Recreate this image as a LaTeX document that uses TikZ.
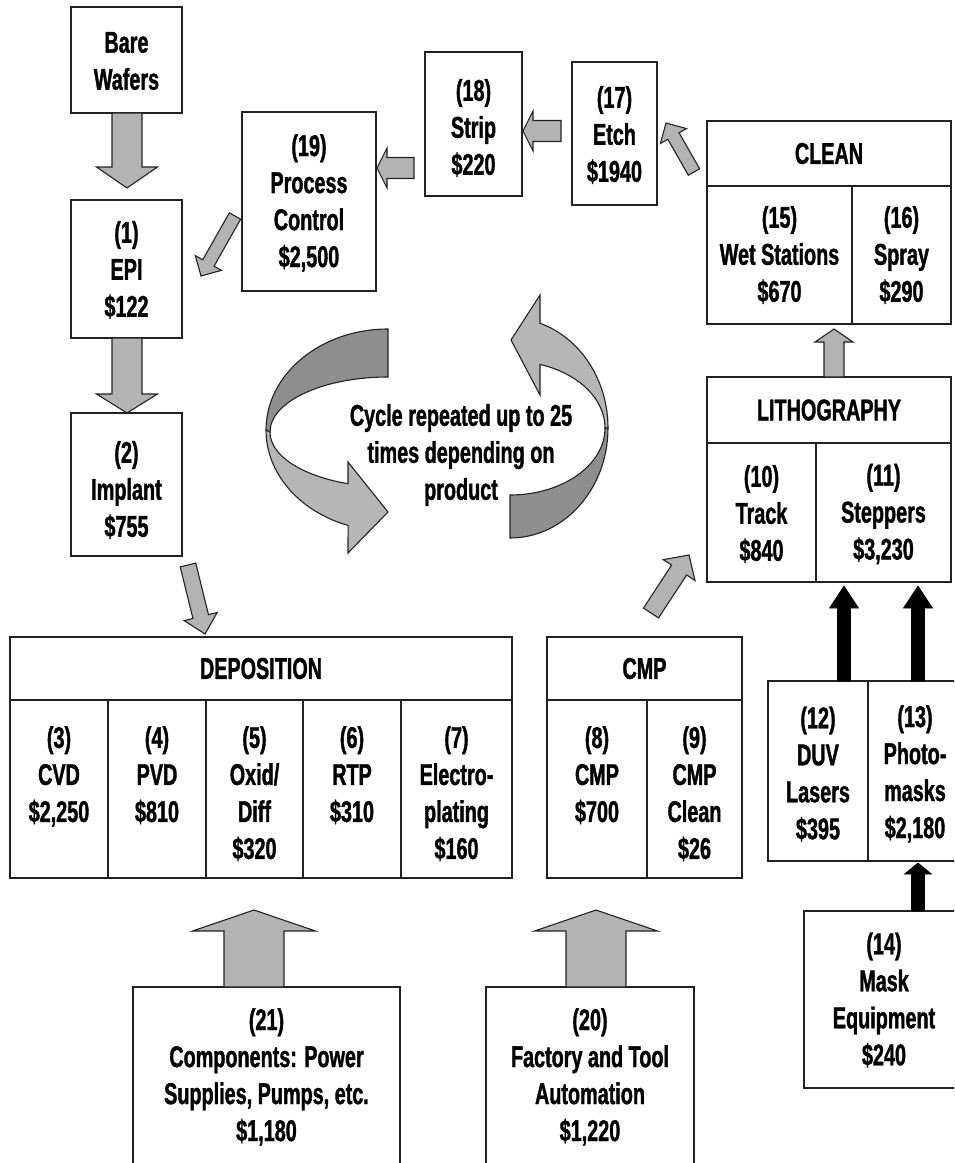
\documentclass[tikz,border=0pt]{standalone}
\usepackage{fontspec}
\setmainfont{Liberation Sans}[FakeStretch=0.66, BoldFeatures={FakeStretch=0.66, FakeBold=1.2}]
\usetikzlibrary{calc}

\definecolor{arrowgray}{HTML}{B3B3B3}
\definecolor{ringdark}{HTML}{8E8E8E}
\definecolor{ringlight}{HTML}{B6B6B6}
\definecolor{linegray}{HTML}{222222}

\tikzset{
  cellbox/.style={draw=linegray, line width=1.8pt, inner sep=0pt},
  divider/.style={draw=linegray, line width=1.5pt},
  txt/.style={font=\fontsize{30}{37}\selectfont\bfseries, align=center, inner sep=0pt},
  grayarrow/.style={fill=arrowgray, draw=linegray, line width=1.1pt, line join=miter},
  blackarrow/.style={fill=black, draw=black, line width=0.6pt, line join=miter},
  ringdarkpart/.style={fill=ringdark, draw=linegray, line width=1.1pt, line join=miter},
  ringlightpart/.style={fill=ringlight, draw=linegray, line width=1.1pt, line join=miter},
}

% rectangle node from two corners: name, x1, y1, x2, y2
\newcommand{\rectnode}[5]{%
  \node[cellbox, minimum width={#4-#2}, minimum height={#5-#3}] (#1)
    at ({(#2+#4)/2},{(#3+#5)/2}) {};}

% block arrow: [style] from, to, shaft half width, head half width, head length
\newcommand{\blockarrow}[6][grayarrow]{%
  \coordinate (ba-h) at ($(#3)!#6pt!(#2)$);
  \draw[#1] ($(#2)!#4pt!90:(#3)$) -- ($(ba-h)!#4pt!-90:(#2)$)
    -- ($(ba-h)!#5pt!-90:(#2)$) -- (#3) -- ($(ba-h)!#5pt!90:(#2)$)
    -- ($(ba-h)!#4pt!90:(#2)$) -- ($(#2)!#4pt!-90:(#3)$) -- cycle;}

\begin{document}
\begin{tikzpicture}[x=1pt,y=-1pt]
\useasboundingbox (0,0) rectangle (954,1163);
\clip (0,0) rectangle (954,1163);

% ---------- boxes ----------
\rectnode{bare}{71}{7}{182}{113}
\rectnode{epi}{71}{200}{182}{338}
\rectnode{implant}{71}{413}{182}{556}
\rectnode{pc}{242}{112}{376}{291}
\rectnode{strip}{425}{52}{522}{196}
\rectnode{etch}{572}{62}{657}{205}
\rectnode{clean}{707}{121}{951}{324}
\rectnode{litho}{707}{377}{951}{582}
\rectnode{dep}{10}{637}{512}{878}
\rectnode{cmp}{547}{637}{742}{878}
\rectnode{duvmask}{768}{681}{962}{861}
\rectnode{maskeq}{804}{911}{962}{1088}
\rectnode{comp}{133}{987}{400}{1175}
\rectnode{fact}{486}{987}{694}{1175}

% group headers and cell dividers
\draw[divider] (707,186) -- (951,186);
\draw[divider] (852,186) -- (852,324);
\draw[divider] (707,443) -- (951,443);
\draw[divider] (816,443) -- (816,582);
\draw[divider] (10,700) -- (512,700);
\foreach \xx in {108,206,303,401} \draw[divider] (\xx,700) -- (\xx,878);
\draw[divider] (547,700) -- (742,700);
\draw[divider] (647,700) -- (647,878);
\draw[divider] (868,681) -- (868,861);

% ---------- texts ----------
\node[txt] (t-bare) at (126.5,61) {Bare\\Wafers};
\node[txt] (t-epi) at (126.5,270) {(1)\\EPI\\\$122};
\node[txt] (t-implant) at (126.5,490) {(2)\\Implant\\\$755};
\node[txt] (t-pc) at (309,203) {(19)\\Process\\Control\\\$2,500};
\node[txt] (t-strip) at (473.5,128) {(18)\\Strip\\\$220};
\node[txt] (t-etch) at (614.5,135) {(17)\\Etch\\\$1940};

\node[txt] (h-clean) at (829,153.5) {CLEAN};
\node[txt] (t-wet) at (779.5,255) {(15)\\Wet Stations\\\$670};
\node[txt] (t-spray) at (901.5,255) {(16)\\Spray\\\$290};

\node[txt] (h-litho) at (829,410) {LITHOGRAPHY};
\node[txt] (t-track) at (761.5,514) {(10)\\Track\\\$840};
\node[txt] (t-steppers) at (883.5,514) {(11)\\Steppers\\\$3,230};

\node[txt] (h-dep) at (261,668.5) {DEPOSITION};
\node[txt, anchor=north] (t-cvd) at (59,726) {(3)\\CVD\\\$2,250};
\node[txt, anchor=north] (t-pvd) at (157,726) {(4)\\PVD\\\$810};
\node[txt, anchor=north] (t-oxid) at (254.5,726) {(5)\\Oxid/\\Diff\\\$320};
\node[txt, anchor=north] (t-rtp) at (352,726) {(6)\\RTP\\\$310};
\node[txt, anchor=north] (t-plating) at (456.5,726) {(7)\\Electro-\\plating\\\$160};

\node[txt] (h-cmp) at (644.5,668.5) {CMP};
\node[txt, anchor=north] (t-cmp) at (597,726) {(8)\\CMP\\\$700};
\node[txt, anchor=north] (t-cmpclean) at (694.5,726) {(9)\\CMP\\Clean\\\$26};

\node[txt] (t-duv) at (818,774) {(12)\\DUV\\Lasers\\\$395};
\node[txt] (t-photo) at (915,774) {(13)\\Photo-\\masks\\\$2,180};
\node[txt] (t-maskeq) at (884,1000) {(14)\\Mask\\Equipment\\\$240};
\node[txt] (t-comp) at (266.5,1077) {(21)\\Components: Power\\Supplies, Pumps, etc.\\\$1,180};
\node[txt] (t-fact) at (590,1077) {(20)\\Factory and Tool\\Automation\\\$1,220};

\node[txt] (t-cycle) at (461,455) {Cycle repeated up to 25\\times depending on\\product};

% ---------- cycle ring arrows ----------
\draw[ringdarkpart] (388,329) arc[start angle=270, end angle=180, x radius=122, y radius=101]
  -- (270,432) arc[start angle=180, end angle=270, x radius=118, y radius=55] -- cycle;
\draw[ringlightpart] (266,430) arc[start angle=180, end angle=109.1, x radius=122, y radius=101]
  -- (348,553) -- (388,512) -- (348,462) -- (348,483.7)
  arc[start angle=109.8, end angle=180, x radius=118, y radius=55] -- cycle;

\draw[ringdarkpart] (510,538) arc[start angle=90, end angle=0, x radius=98, y radius=110]
  -- (605,428) arc[start angle=0, end angle=90, x radius=95, y radius=67] -- cycle;
\draw[ringlightpart] (608,428) arc[start angle=360, end angle=287.8, x radius=98, y radius=110]
  -- (540,295) -- (511,340) -- (540,395) -- (540,364.4)
  arc[start angle=288.4, end angle=360, x radius=95, y radius=67] -- cycle;

% ---------- flow arrows ----------
\coordinate (a-bare-s) at (127,113);   \coordinate (a-bare-e) at (127,188);
\coordinate (a-epi-s) at (127,338);    \coordinate (a-epi-e) at (127,413);
\coordinate (a-pc-s) at (235,216);     \coordinate (a-pc-e) at (201,276);
\coordinate (a-strip-s) at (414,168);  \coordinate (a-strip-e) at (377,168);
\coordinate (a-etch-s) at (561,131);   \coordinate (a-etch-e) at (523,131);
\coordinate (a-clean-s) at (694,172);  \coordinate (a-clean-e) at (666,123);
\coordinate (a-litho-s) at (834,377);  \coordinate (a-litho-e) at (834,329);
\coordinate (a-impl-s) at (188,565);   \coordinate (a-impl-e) at (205,634);
\coordinate (a-cmp-s) at (651,613);    \coordinate (a-cmp-e) at (689,555);
\coordinate (a-comp-s) at (254,987);   \coordinate (a-comp-e) at (254,910);
\coordinate (a-fact-s) at (596,987);   \coordinate (a-fact-e) at (596,910);
\coordinate (a-duv-s) at (844,681);    \coordinate (a-duv-e) at (844,586);
\coordinate (a-photo-s) at (918,681);  \coordinate (a-photo-e) at (918,586);
\coordinate (a-mask-s) at (918,911);   \coordinate (a-mask-e) at (918,863);

\blockarrow{a-bare-s}{a-bare-e}{15}{30.5}{21}
\blockarrow{a-epi-s}{a-epi-e}{15}{30.5}{19}
\blockarrow{a-pc-s}{a-pc-e}{6.5}{15}{15}
\blockarrow{a-strip-s}{a-strip-e}{10.5}{20}{10}
\blockarrow{a-etch-s}{a-etch-e}{10.5}{20}{10}
\blockarrow{a-clean-s}{a-clean-e}{6.5}{15}{15}
\blockarrow{a-litho-s}{a-litho-e}{10}{19}{13}
\blockarrow{a-impl-s}{a-impl-e}{8}{17}{18}
\blockarrow{a-cmp-s}{a-cmp-e}{9}{19}{18}
\blockarrow{a-comp-s}{a-comp-e}{30}{61.5}{21}
\blockarrow{a-fact-s}{a-fact-e}{30}{61.5}{21}
\blockarrow[blackarrow]{a-duv-s}{a-duv-e}{6.5}{14.5}{22}
\blockarrow[blackarrow]{a-photo-s}{a-photo-e}{6.5}{14.5}{22}
\blockarrow[blackarrow]{a-mask-s}{a-mask-e}{6.5}{13.5}{11}
\end{tikzpicture}
\end{document}
